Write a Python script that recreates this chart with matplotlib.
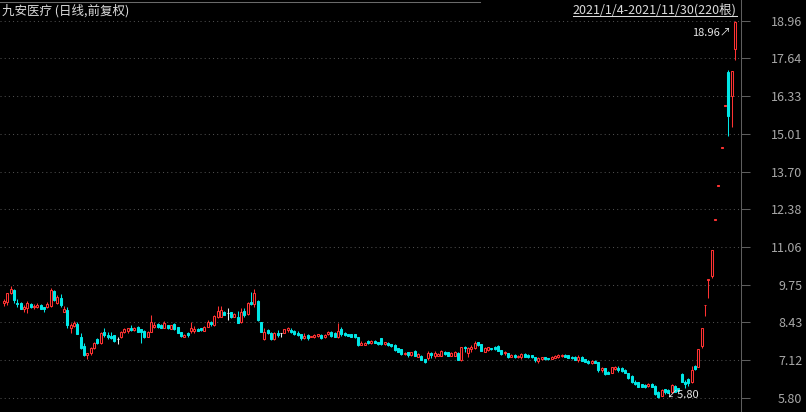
import numpy as np
import matplotlib.pyplot as plt
from matplotlib.lines import Line2D

plt.rcParams['font.family'] = ['Noto Sans CJK SC', 'DejaVu Sans']

title = '九安医疗 (日线,前复权)'
period = '2021/1/4-2021/11/30(220根)'

# daily OHLC, 220 sessions
opens = [
    9.09, 9.15, 9.44, 9.56, 9.12, 9.12, 8.89, 8.92, 9.07, 8.96,
    8.98, 9.04, 8.96, 8.98, 9.00, 9.52, 9.09, 9.28, 8.80, 8.86,
    8.24, 8.31, 8.36, 7.93, 7.60, 7.28, 7.35, 7.53, 7.84, 7.72,
    8.10, 7.99, 7.95, 7.99, 7.85, 7.91, 8.10, 8.14, 8.24, 8.16,
    8.28, 8.19, 8.14, 7.93, 8.10, 8.28, 8.36, 8.34, 8.24, 8.33,
    8.21, 8.38, 8.26, 8.08, 7.93, 8.05, 8.14, 8.14, 8.21, 8.22,
    8.14, 8.28, 8.44, 8.34, 8.61, 8.61, 8.80, 8.75, 8.78, 8.63,
    8.63, 8.45, 8.83, 8.72, 9.15, 9.06, 9.18, 8.43, 7.85, 8.16,
    8.07, 7.84, 8.07, 8.05, 8.07, 8.16, 8.16, 8.14, 8.07, 8.01,
    7.87, 7.99, 7.93, 7.93, 7.95, 7.99, 7.91, 8.02, 8.08, 8.07,
    7.91, 8.20, 8.07, 8.02, 8.02, 8.01, 7.91, 7.65, 7.65, 7.79,
    7.70, 7.79, 7.73, 7.87, 7.66, 7.72, 7.66, 7.64, 7.52, 7.49,
    7.33, 7.38, 7.29, 7.44, 7.23, 7.26, 7.14, 7.18, 7.37, 7.27,
    7.26, 7.27, 7.40, 7.38, 7.27, 7.26, 7.37, 7.12, 7.58, 7.37,
    7.49, 7.52, 7.73, 7.67, 7.41, 7.46, 7.53, 7.58, 7.60, 7.46,
    7.35, 7.35, 7.23, 7.29, 7.21, 7.21, 7.33, 7.29, 7.29, 7.21,
    7.09, 7.14, 7.21, 7.19, 7.16, 7.20, 7.23, 7.24, 7.30, 7.28,
    7.23, 7.23, 7.12, 7.23, 7.14, 7.09, 7.00, 7.08, 7.04, 6.77,
    6.83, 6.71, 6.67, 6.80, 6.85, 6.82, 6.77, 6.65, 6.57, 6.36,
    6.34, 6.27, 6.24, 6.21, 6.28, 6.22, 6.01, 5.87, 6.09, 6.07,
    6.01, 6.21, 6.13, 6.63, 6.36, 6.44, 6.36, 6.91, 6.88, 7.61,
    9.02, 9.92, 10.06, 12.00, 13.20, 14.52, 15.98, 17.18, 16.34, 17.96,
]
highs = [
    9.23, 9.46, 9.70, 9.58, 9.23, 9.14, 9.04, 9.16, 9.12, 9.07,
    9.09, 9.06, 8.98, 9.13, 9.62, 9.55, 9.38, 9.42, 9.00, 8.96,
    8.40, 8.49, 8.44, 8.07, 7.72, 7.37, 7.58, 7.76, 7.90, 8.11,
    8.22, 8.10, 8.09, 8.00, 7.93, 8.12, 8.22, 8.24, 8.33, 8.27,
    8.30, 8.21, 8.16, 8.12, 8.69, 8.43, 8.39, 8.36, 8.49, 8.35,
    8.35, 8.40, 8.28, 8.10, 8.01, 8.10, 8.45, 8.29, 8.24, 8.24,
    8.30, 8.51, 8.46, 8.69, 9.00, 9.00, 8.83, 8.93, 8.80, 8.74,
    8.83, 8.92, 8.92, 9.15, 9.50, 9.59, 9.22, 8.45, 8.22, 8.20,
    8.09, 8.11, 8.16, 8.06, 8.21, 8.26, 8.22, 8.16, 8.14, 8.03,
    8.05, 8.03, 7.97, 8.03, 8.04, 8.01, 8.01, 8.12, 8.12, 8.09,
    8.40, 8.26, 8.11, 8.04, 8.04, 8.03, 7.93, 7.79, 7.74, 7.81,
    7.81, 7.81, 7.75, 7.89, 7.75, 7.74, 7.68, 7.66, 7.54, 7.51,
    7.41, 7.40, 7.40, 7.46, 7.35, 7.28, 7.16, 7.44, 7.38, 7.42,
    7.35, 7.46, 7.42, 7.40, 7.39, 7.43, 7.39, 7.57, 7.60, 7.56,
    7.64, 7.78, 7.75, 7.69, 7.57, 7.58, 7.55, 7.60, 7.64, 7.48,
    7.44, 7.37, 7.31, 7.31, 7.28, 7.37, 7.35, 7.31, 7.30, 7.23,
    7.23, 7.23, 7.23, 7.20, 7.25, 7.28, 7.33, 7.31, 7.32, 7.30,
    7.27, 7.25, 7.29, 7.27, 7.16, 7.11, 7.10, 7.10, 7.06, 6.88,
    6.85, 6.73, 6.88, 6.91, 6.90, 6.86, 6.79, 6.67, 6.59, 6.42,
    6.36, 6.29, 6.28, 6.30, 6.30, 6.24, 6.03, 6.09, 6.10, 6.09,
    6.28, 6.23, 6.15, 6.65, 6.42, 6.48, 6.91, 6.94, 7.51, 8.23,
    9.04, 9.94, 10.96, 12.03, 13.23, 14.55, 16.01, 17.24, 17.20, 18.96,
]
lows = [
    9.01, 9.04, 9.42, 9.09, 8.96, 8.88, 8.80, 8.75, 8.92, 8.89,
    8.94, 8.89, 8.80, 8.94, 8.98, 9.18, 9.07, 8.98, 8.80, 8.22,
    8.07, 8.28, 8.02, 7.49, 7.26, 7.16, 7.30, 7.50, 7.66, 7.68,
    7.93, 7.84, 7.84, 7.76, 7.67, 7.89, 8.07, 8.05, 8.14, 8.13,
    8.08, 7.70, 7.90, 7.91, 8.09, 8.24, 8.25, 8.22, 8.22, 8.21,
    8.19, 8.17, 8.05, 7.93, 7.91, 7.93, 8.07, 8.07, 8.12, 8.14,
    8.12, 8.26, 8.30, 8.31, 8.57, 8.60, 8.67, 8.51, 8.59, 8.61,
    8.42, 8.40, 8.63, 8.69, 9.05, 8.98, 8.49, 8.08, 7.81, 8.02,
    7.82, 7.80, 7.93, 7.93, 8.05, 8.10, 8.06, 8.00, 7.95, 7.81,
    7.85, 7.81, 7.91, 7.88, 7.93, 7.85, 7.89, 8.00, 7.93, 7.91,
    7.89, 7.96, 7.95, 7.94, 7.91, 7.89, 7.62, 7.63, 7.63, 7.68,
    7.67, 7.70, 7.65, 7.65, 7.64, 7.62, 7.58, 7.44, 7.39, 7.29,
    7.29, 7.23, 7.27, 7.24, 7.21, 7.10, 7.02, 7.12, 7.18, 7.19,
    7.24, 7.25, 7.29, 7.24, 7.25, 7.24, 7.10, 7.09, 7.41, 7.23,
    7.41, 7.50, 7.62, 7.42, 7.39, 7.44, 7.47, 7.48, 7.42, 7.30,
    7.29, 7.19, 7.21, 7.19, 7.19, 7.14, 7.21, 7.19, 7.20, 7.06,
    7.02, 7.10, 7.12, 7.12, 7.14, 7.18, 7.17, 7.22, 7.21, 7.18,
    7.14, 7.10, 7.06, 7.07, 7.03, 6.98, 6.98, 7.00, 6.71, 6.71,
    6.60, 6.61, 6.65, 6.77, 6.70, 6.70, 6.65, 6.46, 6.32, 6.26,
    6.16, 6.16, 6.14, 6.19, 6.16, 5.90, 5.80, 5.85, 5.93, 5.95,
    5.95, 5.99, 6.02, 6.34, 6.13, 6.21, 6.32, 6.77, 6.86, 7.52,
    8.65, 9.29, 9.99, 12.00, 13.20, 14.52, 15.98, 14.93, 15.26, 17.59,
]
closes = [
    9.19, 9.44, 9.58, 9.21, 9.07, 8.91, 8.96, 9.09, 8.98, 9.00,
    9.04, 8.91, 8.89, 9.06, 9.56, 9.21, 9.30, 9.02, 8.89, 8.35,
    8.34, 8.40, 8.02, 7.52, 7.29, 7.35, 7.52, 7.72, 7.70, 8.07,
    7.99, 7.91, 7.87, 7.78, 7.85, 8.10, 8.19, 8.22, 8.16, 8.24,
    8.10, 8.09, 7.93, 8.10, 8.43, 8.34, 8.28, 8.24, 8.41, 8.23,
    8.33, 8.19, 8.07, 7.95, 7.99, 7.98, 8.24, 8.21, 8.14, 8.16,
    8.28, 8.45, 8.37, 8.65, 8.84, 8.86, 8.70, 8.75, 8.61, 8.72,
    8.42, 8.80, 8.69, 9.09, 9.07, 9.46, 8.51, 8.10, 8.10, 8.07,
    7.84, 8.07, 7.99, 8.05, 8.19, 8.22, 8.10, 8.02, 7.99, 7.87,
    7.95, 7.87, 7.95, 7.99, 8.02, 7.87, 7.99, 8.10, 7.95, 7.93,
    8.14, 8.02, 7.98, 7.96, 7.93, 7.91, 7.64, 7.72, 7.72, 7.70,
    7.79, 7.72, 7.67, 7.67, 7.73, 7.64, 7.60, 7.46, 7.41, 7.31,
    7.37, 7.29, 7.38, 7.26, 7.33, 7.12, 7.04, 7.35, 7.29, 7.35,
    7.33, 7.44, 7.31, 7.26, 7.37, 7.41, 7.12, 7.56, 7.52, 7.52,
    7.56, 7.70, 7.64, 7.44, 7.55, 7.56, 7.49, 7.50, 7.44, 7.32,
    7.41, 7.21, 7.29, 7.21, 7.26, 7.33, 7.23, 7.21, 7.22, 7.12,
    7.18, 7.21, 7.14, 7.14, 7.23, 7.26, 7.29, 7.29, 7.23, 7.20,
    7.18, 7.12, 7.21, 7.09, 7.05, 7.00, 7.08, 7.02, 6.77, 6.85,
    6.62, 6.63, 6.86, 6.88, 6.78, 6.74, 6.67, 6.48, 6.34, 6.28,
    6.18, 6.18, 6.16, 6.28, 6.18, 5.92, 5.83, 6.07, 6.01, 5.97,
    6.24, 6.01, 6.04, 6.36, 6.28, 6.32, 6.77, 6.79, 7.50, 8.22,
    9.04, 9.94, 10.94, 12.03, 13.23, 14.55, 16.01, 15.64, 17.20, 18.92,
]

UP = '#ff3232'
DOWN = '#00e6e6'
FLAT = '#eeeeee'
GRID = '#4e4e4e'
AXIS = '#5e5e5e'

o = np.array(opens)
h = np.array(highs)
l = np.array(lows)
c = np.array(closes)
x = np.arange(len(c))

colors = np.where(c > o, UP, np.where(c < o, DOWN, FLAT))
faces = np.where(c > o, 'black', colors)

fig = plt.figure(figsize=(8.06, 4.12), dpi=100, facecolor='black')
ax = fig.add_axes([0, 0, 740.5 / 806, 1])
ax.set_facecolor('black')

ax.vlines(x, l, h, colors=colors, linewidth=0.75, zorder=2)
ax.bar(x, np.abs(c - o), bottom=np.minimum(o, c), width=0.6,
       color=faces, edgecolor=colors, linewidth=0.75, zorder=3)

lo, hi = l.min(), h.max()
step = (hi - lo) / 10
ticks = np.linspace(lo, hi, 11)
ax.set_xlim(-1.2, 220.6)
ax.set_ylim(lo - 0.38 * step, hi + 0.55 * step)

ax.yaxis.tick_right()
ax.set_yticks(ticks)
ax.set_yticklabels([f'{v:.2f}' for v in ticks])
ax.tick_params(axis='y', length=6.5, width=0.75, color=AXIS,
               labelcolor='#a8a8a8', labelsize=9, pad=38)
for lab in ax.get_yticklabels():
    lab.set_horizontalalignment('right')
ax.xaxis.set_visible(False)
ax.grid(axis='y', color=GRID, linestyle=(0, (1, 3)), linewidth=0.75)
for side in ['left', 'top', 'bottom']:
    ax.spines[side].set_visible(False)
ax.spines['right'].set_color(AXIS)
ax.spines['right'].set_linewidth(0.75)

# max / min markers
ih = int(np.argmax(h))
il = int(np.argmin(l))
ax.annotate(f'{h[ih]:.2f}↗', xy=(ih, h[ih]), xytext=(-4, -7),
            textcoords='offset pixels', ha='right', va='top',
            color='#e6e6e6', fontsize=8, zorder=5)
ax.annotate(f'↙{l[il]:.2f}', xy=(il, l[il]), xytext=(8, 0),
            textcoords='offset pixels', ha='left', va='baseline',
            color='#e6e6e6', fontsize=8, zorder=5)

# header
fig.add_artist(Line2D([0, 480 / 806], [1 - 1.5 / 412] * 2, color='#6a6a6a', linewidth=0.75))
fig.text(2 / 806, 1 - 11 / 412, title, color='#dcdcdc', fontsize=9,
         ha='left', va='center')
t = fig.text(736.5 / 806, 1 - 10 / 412, period, color='#dcdcdc', fontsize=9,
             ha='right', va='center')
fig.canvas.draw()
bb = t.get_window_extent()
fig.add_artist(Line2D([bb.x0 / 806, bb.x1 / 806], [1 - 16 / 412] * 2,
                      color='#dcdcdc', linewidth=0.75))

fig.savefig('out.png', dpi=100, facecolor='black')
